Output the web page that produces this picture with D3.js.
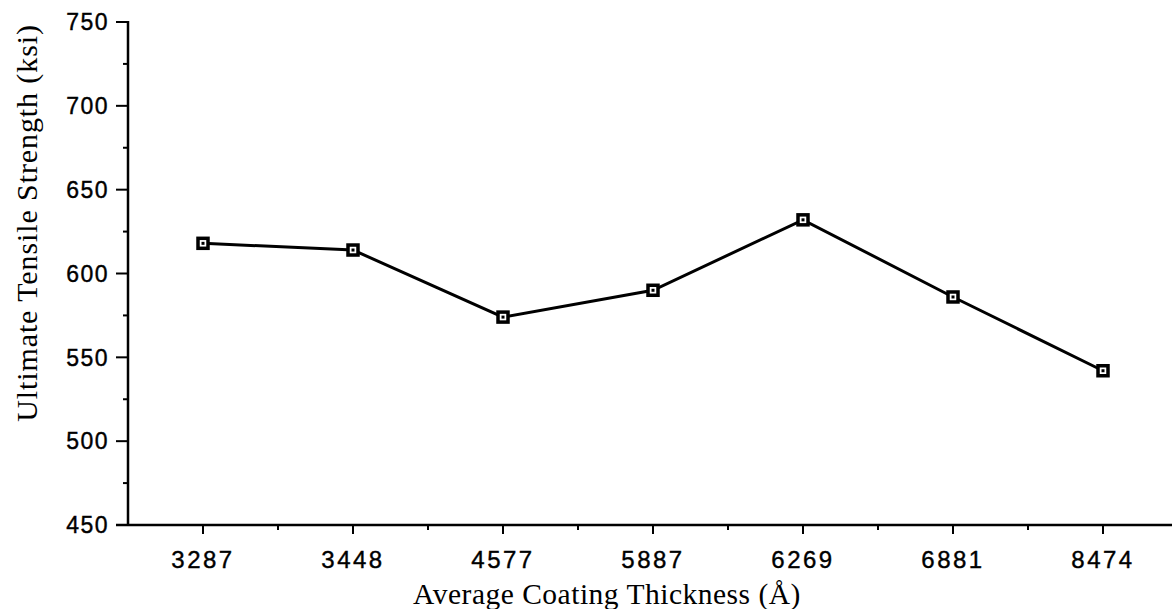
<!DOCTYPE html>
<html><head><meta charset="utf-8">
<script src="https://cdn.jsdelivr.net/npm/d3@7"></script>
<style>body{margin:0;background:#fff;} svg{display:block;}</style>
</head><body>
<script>
const categories = ["3287","3448","4577","5887","6269","6881","8474"];
const strength = [618, 614, 574, 590, 632, 586, 542];
const yTicks = [450, 500, 550, 600, 650, 700, 750];

const W = 1172, H = 609;
const svg = d3.select("body").append("svg").attr("width", W).attr("height", H);
const x = d3.scaleBand().domain(categories).range([128, 1178]);
const y = d3.scaleLinear().domain([450, 750]).range([525, 22]);
const sans = "Liberation Sans, Arial, sans-serif";
const serif = "Liberation Serif, Times New Roman, serif";

// y axis
const yAxis = svg.append("g").attr("transform","translate(128,0)");
yAxis.append("line").attr("x1",0).attr("x2",0).attr("y1",y(750)-1).attr("y2",y(450)+1).attr("stroke","#000").attr("stroke-width",2.5);
yAxis.selectAll(".minor").data(d3.range(450, 751, 25)).join("line")
  .attr("x1",0).attr("x2", d => d%50===0 ? -12 : -5)
  .attr("y1", d=>y(d)).attr("y2", d=>y(d)).attr("stroke","#000").attr("stroke-width",2);
yAxis.selectAll("text").data(yTicks).join("text")
  .attr("x",-19).attr("y", d=>y(d)).attr("dy","0.36em").attr("text-anchor","end")
  .attr("font-family",sans).attr("font-size",23).attr("letter-spacing","1.5px")
  .attr("stroke","#000").attr("stroke-width",0.4).text(d=>d);

// x axis
const xAxis = svg.append("g").attr("transform","translate(0,525)");
xAxis.append("line").attr("x1",116).attr("x2",W).attr("y1",0).attr("y2",0).attr("stroke","#000").attr("stroke-width",2.5);
xAxis.selectAll(".maj").data(categories).join("line")
  .attr("x1", d=>x(d)+x.bandwidth()/2).attr("x2", d=>x(d)+x.bandwidth()/2)
  .attr("y1",0).attr("y2",9).attr("stroke","#000").attr("stroke-width",2);
xAxis.selectAll(".min").data(categories.slice(1)).join("line")
  .attr("x1", d=>x(d)).attr("x2", d=>x(d))
  .attr("y1",0).attr("y2",5).attr("stroke","#000").attr("stroke-width",2);
xAxis.selectAll("text").data(categories).join("text")
  .attr("x", d=>x(d)+x.bandwidth()/2).attr("y",43).attr("text-anchor","middle")
  .attr("font-family",sans).attr("font-size",24)
  .attr("letter-spacing","2.5px").attr("stroke","#000").attr("stroke-width",0.4).text(d=>d);

// titles
svg.append("text").attr("x",607).attr("y",604).attr("text-anchor","middle")
  .attr("font-family",serif).attr("font-size",29.5).attr("letter-spacing","0.5px")
  .text("Average Coating Thickness (Å)");
svg.append("text").attr("transform","translate(37,223) rotate(-90)").attr("text-anchor","middle")
  .attr("font-family",serif).attr("font-size",30).attr("letter-spacing","0.9px")
  .text("Ultimate Tensile Strength (ksi)");

// line
const pts = categories.map((c,i)=>({c, v:strength[i]}));
svg.append("path").datum(pts)
  .attr("d", d3.line().x(d=>x(d.c)+x.bandwidth()/2).y(d=>y(d.v)))
  .attr("fill","none").attr("stroke","#000").attr("stroke-width",3);
svg.selectAll(".mk").data(pts).join("rect")
  .attr("x", d=>x(d.c)+x.bandwidth()/2-5).attr("y", d=>y(d.v)-5)
  .attr("width",10).attr("height",10).attr("fill","#fff").attr("stroke","#000").attr("stroke-width",3.5);
svg.selectAll(".dot").data(pts).join("rect")
  .attr("x", d=>x(d.c)+x.bandwidth()/2-1.5).attr("y", d=>y(d.v)-1.5)
  .attr("width",3).attr("height",3).attr("fill","#000");
</script>
</body></html>
